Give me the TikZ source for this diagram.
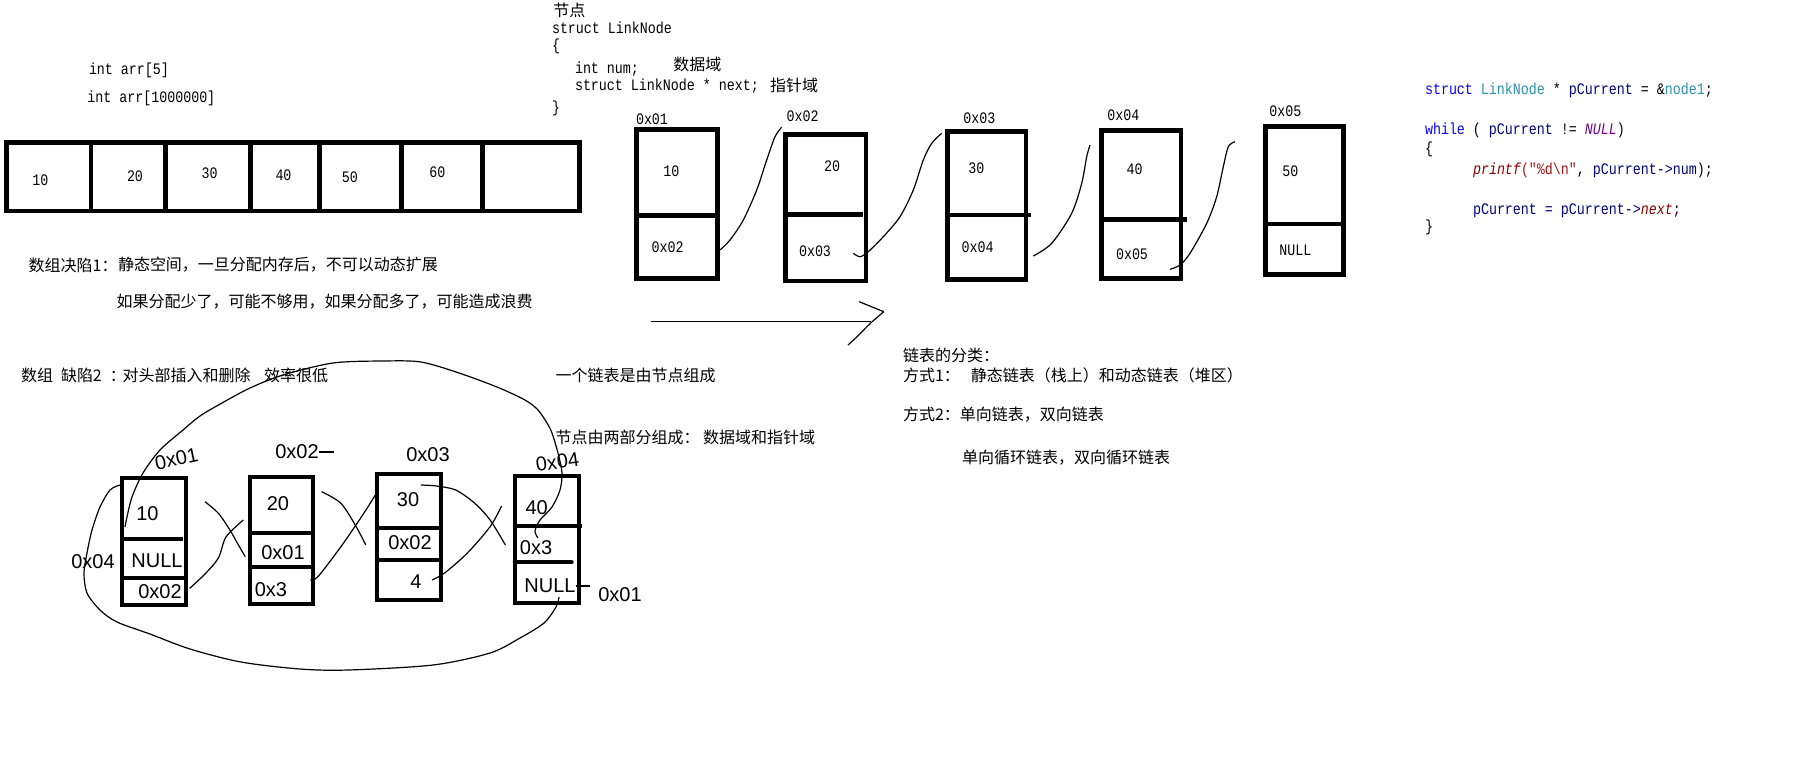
\documentclass[tikz,border=0pt]{standalone}
\usepackage{fontspec}
\newfontfamily\cn{Noto Sans CJK SC}
\newfontfamily\code{Liberation Mono}[FakeStretch=0.833]
\newfontfamily\hand{Liberation Sans}
\definecolor{kwblue}{RGB}{0,0,255}
\definecolor{typeteal}{RGB}{43,145,175}
\definecolor{idnavy}{RGB}{0,0,128}
\definecolor{macropurple}{RGB}{111,0,138}
\definecolor{fnred}{RGB}{136,0,0}
\definecolor{strred}{RGB}{163,21,21}
\tikzset{
  cnt/.style={font={\cn\fontsize{8pt}{9.6pt}\selectfont}, anchor=west, inner sep=0pt, outer sep=0pt},
  cod/.style={font={\code\fontsize{8pt}{9.6pt}\selectfont}, anchor=base west, inner sep=0pt, outer sep=0pt},
  hnd/.style={font={\hand\fontsize{10pt}{11pt}\selectfont}, inner sep=0pt, outer sep=0pt},
  cell/.style 2 args={draw, line width=2.4pt, inner sep=0pt, outer sep=0pt, minimum width=#1, minimum height=#2},
  hcell/.style 2 args={draw, line width=2pt, inner sep=0pt, outer sep=0pt, minimum width=#1, minimum height=#2},
  thickline/.style={line width=2.4pt},
  hthick/.style={line width=2pt},
  hline/.style={line width=0.6pt},
}
\begin{document}
\begin{tikzpicture}[x=0.5pt,y=-0.5pt]
\useasboundingbox (0,0) rectangle (1801,773);
\fill[white] (0,0) rectangle (1801,773);

% ---------- array ----------
\node[cod] (ia) at (89,74) {int arr[5]};
\node[cod] (ib) at (87.3,102.5) {int arr[1000000]};
\node[cell={286.6pt}{34.25pt}] (arr) at (292.9,176.75) {};
\foreach \xx in {91,165.3,250.7,319.6,401.8,482.2}
  \draw[thickline] (\xx,142.5) -- (\xx,211);
\node[cod] (a1) at (32.5,185) {10};
\node[cod] (a2) at (127,181.7) {20};
\node[cod] (a3) at (201.7,178) {30};
\node[cod] (a4) at (275.5,180) {40};
\node[cod] (a5) at (341.8,182.7) {50};
\node[cod] (a6) at (429.4,177) {60};

% ---------- left texts ----------
\node[cnt] (d1a) at (28.7,265) {数组决陷1：};
\node[cnt] (d1b) at (118,265) {静态空间，一旦分配内存后，不可以动态扩展};
\node[cnt] (d1c) at (116.7,301.7) {如果分配少了，可能不够用，如果分配多了，可能造成浪费};
\node[cnt] (d2a) at (21,375) {数组\hspace{4pt}缺陷2\hspace{4pt}：};
\node[cnt] (d2b) at (122.5,375) {对头部插入和删除};
\node[cnt] (d2c) at (264,375) {效率很低};

% ---------- struct ----------
\node[cnt] (s0) at (553.3,10.8) {节点};
\node[cod] (s1) at (552,33) {struct LinkNode};
\node[cod] (s2) at (552,50) {\{};
\node[cod] (s3) at (575,73) {int num;};
\node[cnt] (s3b) at (673.3,64) {数据域};
\node[cod] (s4) at (575,90.5) {struct LinkNode * next;};
\node[cnt] (s4b) at (770,85.5) {指针域};
\node[cod] (s5) at (552,112) {\}};

% ---------- linked list nodes ----------
\node[cell={40.6pt}{74.6pt}] (n1) at (677,203.7) {};
\draw[thickline] (636.4,215.7) -- (717.6,215.7);
\node[cell={40.1pt}{73.4pt}] (n2) at (825.8,207.5) {};
\draw[thickline] (785.7,214.3) -- (863,214.3);
\node[cell={39.25pt}{73.8pt}] (n3) at (986.65,205.5) {};
\draw[thickline] (947.4,215) -- (1030.7,215);
\node[cell={39.6pt}{73.8pt}] (n4) at (1141.3,204.5) {};
\draw[thickline] (1101.7,219.3) -- (1186.7,219.3);
\node[cell={38.95pt}{73.8pt}] (n5) at (1304.65,200.5) {};
\draw[thickline] (1265.7,224) -- (1343.6,224);

\node[cod] (l1) at (636,124) {0x01};
\node[cod] (v1) at (663.3,176.7) {10};
\node[cod] (p1) at (651.7,252.3) {0x02};
\node[cod] (l2) at (786.7,121.7) {0x02};
\node[cod] (v2) at (824,171.7) {20};
\node[cod] (p2) at (799,256.7) {0x03};
\node[cod] (l3) at (963.3,123.3) {0x03};
\node[cod] (v3) at (968.3,173.3) {30};
\node[cod] (p3) at (961.7,252.3) {0x04};
\node[cod] (l4) at (1107.3,120.7) {0x04};
\node[cod] (v4) at (1126.7,174) {40};
\node[cod] (p4) at (1116,259) {0x05};
\node[cod] (l5) at (1269.3,116) {0x05};
\node[cod] (v5) at (1282.3,176) {50};
\node[cod] (p5) at (1279.3,255) {NULL};

\coordinate (c1s) at (720,250); \coordinate (c1e) at (781.7,127.3);
\draw[hline] plot[smooth] coordinates {(c1s) (730,240) (743.3,220) (756.7,190) (766.7,160) (775,136.7) (c1e)};
\coordinate (c2s) at (853.3,253.3); \coordinate (c2e) at (941.7,133.3);
\draw[hline] plot[smooth] coordinates {(c2s) (860,256.7) (868.3,251.7) (883.3,236.7) (900,216.7) (913.3,190) (923.3,160) (931.7,143.3) (c2e)};
\coordinate (c3s) at (1033.3,256); \coordinate (c3e) at (1090,145);
\draw[hline] plot[smooth] coordinates {(c3s) (1051.7,243.3) (1071.7,213.3) (1081.7,183.3) (1086.7,156.7) (c3e)};
\coordinate (c4s) at (1170,269.3); \coordinate (c4e) at (1235,141.7);
\draw[hline] plot[smooth] coordinates {(c4s) (1180,265) (1190,253.3) (1206.7,223.3) (1216.7,196.7) (1223.3,166.7) (1228.3,146.7) (c4e)};

% ---------- big arrow ----------
\coordinate (aS) at (651,321.5); \coordinate (aE) at (871,321.5);
\coordinate (aT) at (883.8,311.7); \coordinate (aU) at (859.2,301.7); \coordinate (aL) at (848,345);
\draw[hline] (aS) -- (aE);
\draw[hline] (aU) -- (aT);
\draw[hline] plot[smooth] coordinates {(aT) (870.4,323.3) (857,336.7) (aL)};

% ---------- middle texts ----------
\node[cnt] (m1) at (555.6,375.3) {一个链表是由节点组成};
\node[cnt] (m2a) at (555.6,437.5) {节点由两部分组成：};
\node[cnt] (m2b) at (703,437.5) {数据域和指针域};
\node[cnt] (r1) at (903,355) {链表的分类：};
\node[cnt] (r2a) at (903,375.7) {方式1：};
\node[cnt] (r2b) at (970.8,375.7) {静态链表（栈上）和动态链表（堆区）};
\node[cnt] (r3) at (903,414.5) {方式2：单向链表，双向链表};
\node[cnt] (r4) at (962,457.5) {单向循环链表，双向循环链表};

% ---------- right code ----------
\node[cod] (k1) at (1425,94.3) {\textcolor{kwblue}{struct} \textcolor{typeteal}{LinkNode} * \textcolor{idnavy}{pCurrent} = \&\textcolor{typeteal}{node1};};
\node[cod] (k2) at (1425,134) {\textcolor{kwblue}{while} ( \textcolor{idnavy}{pCurrent} != \textcolor{macropurple}{\itshape NULL})};
\node[cod] (k3) at (1425,153) {\{};
\node[cod] (k4) at (1473,174) {\textcolor{fnred}{\itshape printf}\textcolor{strred}{("\%d\textbackslash n"}, \textcolor{idnavy}{pCurrent->num});};
\node[cod] (k5) at (1473,214) {\textcolor{idnavy}{pCurrent = pCurrent->}\textcolor{fnred}{\itshape next};};
\node[cod] (k6) at (1425,231) {\}};

% ---------- hand-drawn doubly linked list ----------
\node[hcell={32.15pt}{63.65pt}] (hA) at (154.15,541.65) {};
\draw[hthick] (122,539) -- (183.3,539);
\draw[hthick] (122,578.3) -- (186.3,578.3);
\node[hcell={31.6pt}{63.35pt}] (hB) at (281.6,540.35) {};
\draw[hthick] (250,533.3) -- (313.2,533.3);
\draw[hthick] (250,567.3) -- (313.2,567.3);
\node[hcell={31.85pt}{63pt}] (hC) at (409.15,536.7) {};
\draw[hthick] (377.3,527.7) -- (441,527.7);
\draw[hthick] (377.3,560.3) -- (441,560.3);
\node[hcell={32.15pt}{63.35pt}] (hD) at (546.85,539.65) {};
\draw[hthick] (514.7,526) -- (581.7,526);
\draw[hthick, line cap=round] (514.7,562.3) -- (571.7,562.3);

\node[hnd, rotate=12] (ha0) at (176.5,459) {0x01};
\node[hnd] (ha1) at (147.5,514) {10};
\node[hnd] (ha2) at (157,561) {NULL};
\node[hnd] (ha3) at (160,592) {0x02};
\node[hnd] (ha4) at (93,562) {0x04};
\node[hnd] (hb0) at (297,452) {0x02};
\node[hnd] (hb1) at (278,504) {20};
\node[hnd] (hb2) at (283,553) {0x01};
\node[hnd] (hb3) at (271,590) {0x3};
\node[hnd] (hc0) at (428,455) {0x03};
\node[hnd] (hc1) at (408,500) {30};
\node[hnd] (hc2) at (410,543) {0x02};
\node[hnd] (hc3) at (416,582) {4};
\node[hnd, rotate=8] (hd0) at (557.5,462) {0x04};
\node[hnd] (hd1) at (536.7,508) {40};
\node[hnd] (hd2) at (536,548) {0x3};
\node[hnd] (hd3) at (550,586) {NULL};
\node[hnd] (hd4) at (620,595) {0x01};

\draw[hline] (hb0.east) -- ++(15,0);
\draw[hline] (hd3.east) -- ++(14,0);

% crossing links
\coordinate (x1s) at (205,501.7); \coordinate (x1e) at (245.2,556.7);
\draw[hline] plot[smooth] coordinates {(x1s) (218.4,513.3) (229.9,530) (237.5,543.3) (x1e)};
\coordinate (x2s) at (189.7,588.3); \coordinate (x2e) at (243.3,520);
\draw[hline] plot[smooth] coordinates {(x2s) (205,574) (218.4,558) (226,537) (x2e)};
\coordinate (x3s) at (321.7,491.7); \coordinate (x3e) at (365.7,545);
\draw[hline] plot[smooth] coordinates {(x3s) (340.9,503.3) (356.2,526.7) (x3e)};
\coordinate (x4s) at (310.2,580); \coordinate (x4e) at (375.3,495);
\draw[hline] plot[smooth] coordinates {(x4s) (317.9,576.7) (340.9,546.7) (363.8,513.3) (x4e)};
\coordinate (x5s) at (421,485); \coordinate (x5e) at (505.4,545);
\draw[hline] plot[smooth] coordinates {(x5s) (436.5,486) (455.7,490) (474.8,503.3) (490.1,520) (x5e)};
\coordinate (x6s) at (432,580); \coordinate (x6e) at (501.6,506);
\draw[hline] plot[smooth] coordinates {(x6s) (444.2,573.3) (467.1,553.3) (490.1,526.7) (x6e)};

% big loops
\coordinate (L1s) at (125,527); \coordinate (L1e) at (538,538);
\draw[hline] plot[smooth] coordinates {(L1s) (127,517) (132,497) (143,473) (160,450) (183,430) (200,416) (222,403) (250,388) (283,375) (333,363) (383,361) (421,362) (459,373) (497,387) (525,400) (538,410) (547,423) (552,433) (558,453) (562,473) (560,490) (552,507) (540,520) (535,531) (L1e)};
\coordinate (L2s) at (120,485); \coordinate (L2e) at (559,597);
\draw[hline] plot[smooth] coordinates {(L2s) (110,490) (100,507) (92,530) (87,553) (84,573) (87,593) (100,610) (117,622) (150,634) (190,649) (241,662) (300,669) (348,670) (433,665) (490,653) (520,638) (544,623) (556,607) (L2e)};
\end{tikzpicture}
\end{document}
